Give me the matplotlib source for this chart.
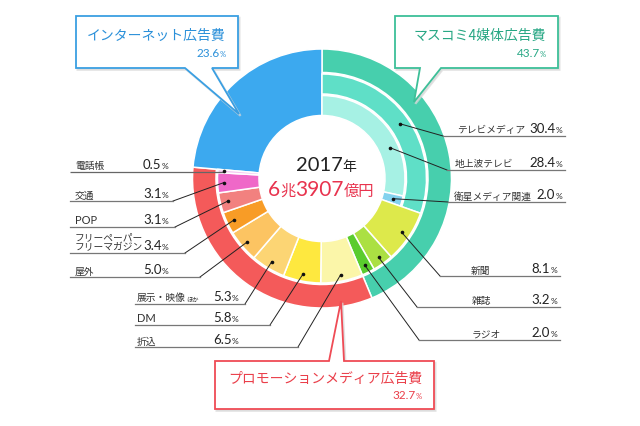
import numpy as np
import matplotlib.pyplot as plt
from matplotlib.patches import Wedge, Polygon, Circle

plt.rcParams['font.family'] = ['Noto Sans CJK JP', 'DejaVu Sans']
NUMF = ['Lato', 'Noto Sans CJK JP']
JPF = ['Noto Sans CJK JP', 'DejaVu Sans']

# ---------------- data ----------------
GROUPS = ["マスコミ4媒体広告費", "プロモーションメディア広告費", "インターネット広告費"]
GROUP_VAL = [43.7, 32.7, 23.6]

TV_NAME = "テレビメディア"
TV_VAL = 30.4
TV_SUB = ["地上波テレビ", "衛星メディア関連"]
TV_SUB_VAL = [28.4, 2.0]
MASS_ITEMS = ["新聞", "雑誌", "ラジオ"]
MASS_VAL = [8.1, 3.2, 2.0]

PROMO_ITEMS = ["折込", "DM", "展示・映像ほか", "屋外", "フリーペーパー\nフリーマガジン",
               "POP", "交通", "電話帳"]
PROMO_VAL = [6.5, 5.8, 5.3, 5.0, 3.4, 3.1, 3.1, 0.5]

YEAR = "2017"
TOTAL = ("6", "兆", "3907", "億円")

# ---------------- style ----------------
C_NET = '#3ca9ef'
C_MASS = '#47cfad'
C_TV = '#5fdfc7'
C_SUB = ['#a6f1e4', '#83d2ee']
C_MASS_ITEMS = ['#dde94b', '#abe043', '#5acc2e']
C_PROMO = '#f45a5a'
C_PROMO_ITEMS = ['#fbf6a9', '#fee83f', '#fcd574', '#fcc462', '#f89c26',
                 '#f2817f', '#ef68c8', '#f4c9f1']
T_NET, T_MASS, T_PROMO = '#2b90d9', '#27a784', '#ea3f4a'

CX, CY = 322, 179.5
R_OUT, R_MID, R_MID_IN, R_IN = 129.5, 106, 84.5, 63
EW = 1.1

fig = plt.figure(figsize=(6.4, 4.27), dpi=100)
ax = fig.add_axes([0, 0, 1, 1])
ax.set_xlim(0, 640)
ax.set_ylim(427, 0)
ax.set_aspect('equal')
ax.axis('off')
renderer = fig.canvas.get_renderer()


def arc(f0, f1, r_out, r_in, color):
    ax.add_patch(Wedge((CX, CY), r_out, 3.6 * f0 - 90, 3.6 * f1 - 90,
                       width=r_out - r_in, fc=color, ec='white', lw=EW))


def pos(f, r):
    a = np.deg2rad(3.6 * f - 90)
    return CX + r * np.cos(a), CY + r * np.sin(a)


def seq(x, y, parts, ha='left', color='#222', zorder=6):
    # parts: (text, size, family); all on one baseline, laid out left to right
    ts = [ax.text(0, y, s, fontsize=fs, family=fam, color=color,
                  va='baseline', ha='left', zorder=zorder) for s, fs, fam in parts]
    ws = [t.get_window_extent(renderer).width for t in ts]
    tot = sum(ws)
    start = {'left': x, 'right': x - tot, 'center': x - tot / 2}[ha]
    for t, w in zip(ts, ws):
        t.set_x(start)
        start += w
    return ts


# ---------------- rings ----------------
mass, promo, net = GROUP_VAL
arc(0, mass, R_OUT, R_MID, C_MASS)
arc(mass, mass + promo, R_OUT, R_MID, C_PROMO)
arc(mass + promo, 100, R_OUT, R_IN, C_NET)

arc(0, TV_VAL, R_MID - 1.5, R_MID_IN, C_TV)
mids = {TV_NAME: TV_VAL / 2}
c = 0
for n, v, col in zip(TV_SUB, TV_SUB_VAL, C_SUB):
    arc(c, c + v, R_MID_IN - 1.5, R_IN, col)
    mids[n] = c + v / 2
    c += v
for n, v, col in zip(MASS_ITEMS, MASS_VAL, C_MASS_ITEMS):
    arc(c, c + v, R_MID - 1.5, R_IN, col)
    mids[n] = c + v / 2
    c += v
for n, v, col in zip(PROMO_ITEMS, PROMO_VAL, C_PROMO_ITEMS):
    arc(c, c + v, R_MID - 1.5, R_IN, col)
    mids[n] = c + v / 2
    c += v
ax.add_patch(Circle((CX, CY), R_IN - 0.5, fc='white', ec='none'))

# ---------------- centre text ----------------
seq(326, 171, [(YEAR, 14.5, NUMF), ("年", 10, JPF)], ha='center', color='#222')
red = '#e8334e'
seq(321, 196, [(TOTAL[0], 15, NUMF), (TOTAL[1], 11, JPF),
               (TOTAL[2], 15, NUMF), (TOTAL[3], 11, JPF)], ha='center', color=red)

# ---------------- leader labels ----------------
values = dict(zip(TV_SUB + MASS_ITEMS + PROMO_ITEMS,
                  TV_SUB_VAL + MASS_VAL + PROMO_VAL))
values[TV_NAME] = TV_VAL

# name: (dot frac or None, dot radius, line y, elbow x, line end x, name x, number x, side)
LAYOUT = {
    TV_NAME:           (None, 95, 137, 443, 565, 457, 562, 'r'),
    "地上波テレビ":     (18.3, 75, 171, 447, 565, 455, 562, 'r'),
    "衛星メディア関連": (None, 74, 203, 448, 565, 454, 562, 'r'),
    "新聞":            (None, 96, 277, 440, 560, 471, 557, 'r'),
    "雑誌":            (None, 97, 308, 417, 560, 472, 557, 'r'),
    "ラジオ":          (None, 97, 341, 419, 560, 472, 557, 'r'),
    "電話帳":          (None, 98, 173, None, 70, 75, 143, 'l'),
    "交通":            (None, 98, 202, 173, 70, 75, 143, 'l'),
    "POP":             (None, 97, 228, 175, 70, 75, 143, 'l'),
    "フリーペーパー\nフリーマガジン": (None, 97, 254, 185, 70, 75, 143, 'l'),
    "屋外":            (None, 98, 278, 200, 70, 75, 143, 'l'),
    "展示・映像ほか":   (None, 97, 305, 245, 135, 137, 213, 'l'),
    "DM":              (None, 97, 326, 270, 135, 137, 213, 'l'),
    "折込":            (None, 98, 348, 298, 135, 137, 213, 'l'),
}

for name, (fd, rd, ly, ex, lx, nx, numx, side) in LAYOUT.items():
    f = mids[name] if fd is None else fd
    dx, dy = pos(f, rd)
    if ex is None:
        ax.plot([dx, lx], [ly, ly], color='#666', lw=0.9, solid_capstyle='butt')
    else:
        ax.plot([dx, ex], [dy, ly], color='#222', lw=0.7)
        ax.plot([ex, lx], [ly, ly], color='#777', lw=0.9)
    ax.plot(dx, dy, 'o', ms=2.6, color='#111', mec='none')

    base = ly - 3.5
    if name == "展示・映像ほか":
        seq(nx, base, [("展示・映像", 7, JPF), ("ほか", 4.5, JPF)], color='#333')
    elif "\n" in name:
        a, b = name.split("\n")
        ax.text(nx, base - 10, a, fontsize=7, color='#333', va='baseline', ha='left')
        ax.text(nx, base, b, fontsize=7, color='#333', va='baseline', ha='left')
    elif name in ("POP", "DM"):
        ax.text(nx, base, name, fontsize=8, family=NUMF, color='#333',
                va='baseline', ha='left')
    else:
        ax.text(nx, base, name, fontsize=7, color='#333', va='baseline', ha='left')
    num = f"{values[name]:.1f}"
    seq(numx, base, [(num, 9.5, NUMF), ("%", 6, NUMF)],
        ha='right' if side == 'r' else 'left', color='#222')


# ---------------- callouts ----------------
def callout(x0, y0, x1, y1, tail, tip, edge, title, val, tcol):
    xa, xb, where = tail
    if where == 'bottom':
        pts = [(x0, y0), (x1, y0), (x1, y1), (xb, y1), tip, (xa, y1), (x0, y1)]
    else:
        pts = [(x0, y0), (xa, y0), tip, (xb, y0), (x1, y0), (x1, y1), (x0, y1)]
    sh = [(px + 1.5, py + 1.8) for px, py in pts]
    ax.add_patch(Polygon(sh, closed=True, fc='#d8d8d8', ec='#d8d8d8', lw=1.5,
                         alpha=0.7, zorder=4))
    ax.add_patch(Polygon(pts, closed=True, fc='white', ec=edge, lw=1.3,
                         joinstyle='miter', zorder=5))
    xr = x1 - 12
    ax.text(xr, y0 + (y1 - y0) * 0.36, title, fontsize=10, color=tcol,
            ha='right', va='center', zorder=6)
    seq(xr, y0 + (y1 - y0) * 0.77, [(f"{val:.1f}", 8.5, NUMF), ("%", 5.5, NUMF)],
        ha='right', color=tcol)


callout(76, 17, 238, 69, (185, 212, 'bottom'), (239, 115), '#3a9fe2',
        GROUPS[2], net, T_NET)
callout(395, 17, 558, 69, (420, 441, 'bottom'), (414, 103), '#3dbf98',
        GROUPS[0], mass, T_MASS)
callout(215, 362, 434, 410, (329, 344, 'top'), (341, 302), '#ef4b55',
        GROUPS[1], promo, T_PROMO)

fig.savefig('out.png', dpi=100)
